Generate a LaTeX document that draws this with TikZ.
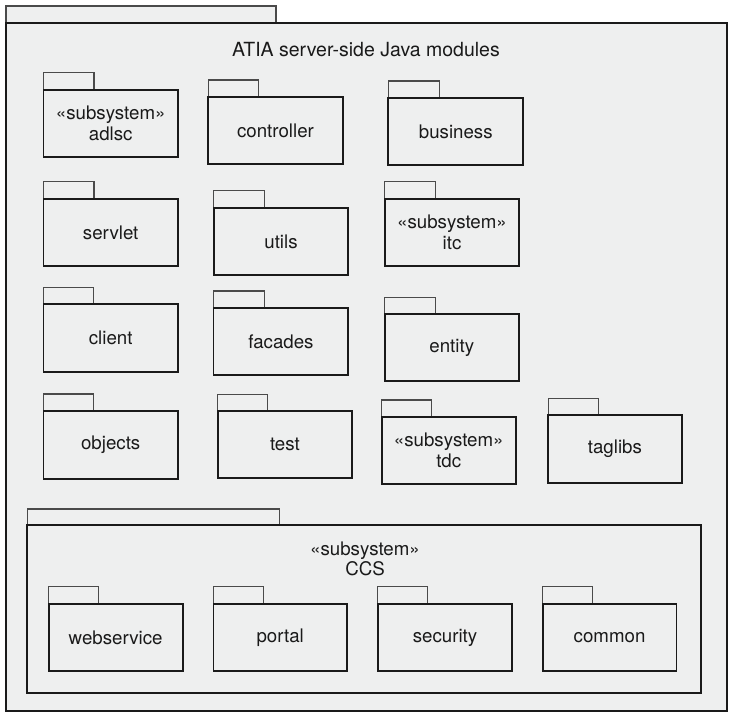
\documentclass[tikz,border=0pt]{standalone}
\usepackage{fontspec}
\setmainfont{TeX Gyre Heros}
\definecolor{pkgfill}{HTML}{EEEFEF}
\definecolor{ink}{HTML}{1A1A1A}
\definecolor{tabink}{HTML}{4A4A4A}
\newcommand{\umlpkg}[8]{%
  \draw[tabline] (#2,-#4) rectangle (#3,-#5);
  \draw[bodyline] (#2,-#5) rectangle (#6,-#7);
  \node[lbl] (#1) at ({(#2+#6)/2},{-(#5+#7)/2}) {#8};
}
\begin{document}
\begin{tikzpicture}[x=1pt,y=1pt,
  tabline/.style={draw=tabink,line width=1.2pt,fill=pkgfill},
  bodyline/.style={draw=ink,line width=1.8pt,fill=pkgfill},
  lbl/.style={text=ink,font=\fontsize{18.7}{20.5}\selectfont,align=center,inner sep=0pt},
  ttl/.style={text=ink,font=\fontsize{19.5}{21}\selectfont,inner sep=0pt}]
\useasboundingbox (0,0) rectangle (734,-718);
% outer package
\draw[tabline] (6,-6) rectangle (276,-23);
\draw[bodyline] (6,-23) rectangle (727,-711);
\node[ttl] (title) at (366,-50) {ATIA server-side Java modules};
% row 1
\umlpkg{adlsc}{43.5}{94}{72.7}{89.7}{177.9}{156.7}{«subsystem»\\adlsc}
\umlpkg{controller}{208.3}{258.7}{80}{97}{342.7}{164}{controller}
\umlpkg{business}{388.3}{439.3}{81}{97.7}{523.3}{165}{business}
% row 2
\umlpkg{servlet}{43.5}{94}{181.7}{198.7}{177.9}{266}{servlet}
\umlpkg{utils}{213.7}{264.3}{190.7}{207.7}{348.3}{275}{utils}
\umlpkg{itc}{384.7}{435.7}{181.7}{198.7}{519.3}{266}{«subsystem»\\itc}
% row 3
\umlpkg{client}{43.5}{93.6}{287.7}{304.3}{177.9}{372}{client}
\umlpkg{facades}{213.5}{264.5}{291}{308}{348.3}{375.3}{facades}
\umlpkg{entity}{384.8}{435.4}{297.3}{313.7}{518.7}{381.3}{entity}
% row 4
\umlpkg{objects}{43.5}{93.6}{394}{410.7}{177.9}{478.7}{objects}
\umlpkg{test}{217.7}{267.8}{394.3}{411}{352.1}{478}{test}
\umlpkg{tdc}{381.6}{431.6}{400}{416.7}{515.9}{484.3}{«subsystem»\\tdc}
\umlpkg{taglibs}{548.2}{598.3}{398.7}{415.3}{681.6}{482.7}{taglibs}
% CCS subsystem
\draw[tabline] (27.2,-509) rectangle (279.5,-525.3);
\draw[bodyline] (27.2,-525.3) rectangle (701.3,-693.3);
\node[lbl] (ccs) at (365,-558.8) {«subsystem»\\CCS};
\umlpkg{webservice}{48.7}{98.3}{586.7}{603.7}{182.6}{671.3}{webservice}
\umlpkg{portal}{213.5}{263.1}{586.7}{603.7}{346.9}{671.3}{portal}
\umlpkg{security}{377.8}{427.4}{586.7}{603.7}{512.2}{671.3}{security}
\umlpkg{common}{542.6}{592.7}{586.7}{603.7}{676.5}{671.3}{common}
\end{tikzpicture}
\end{document}
